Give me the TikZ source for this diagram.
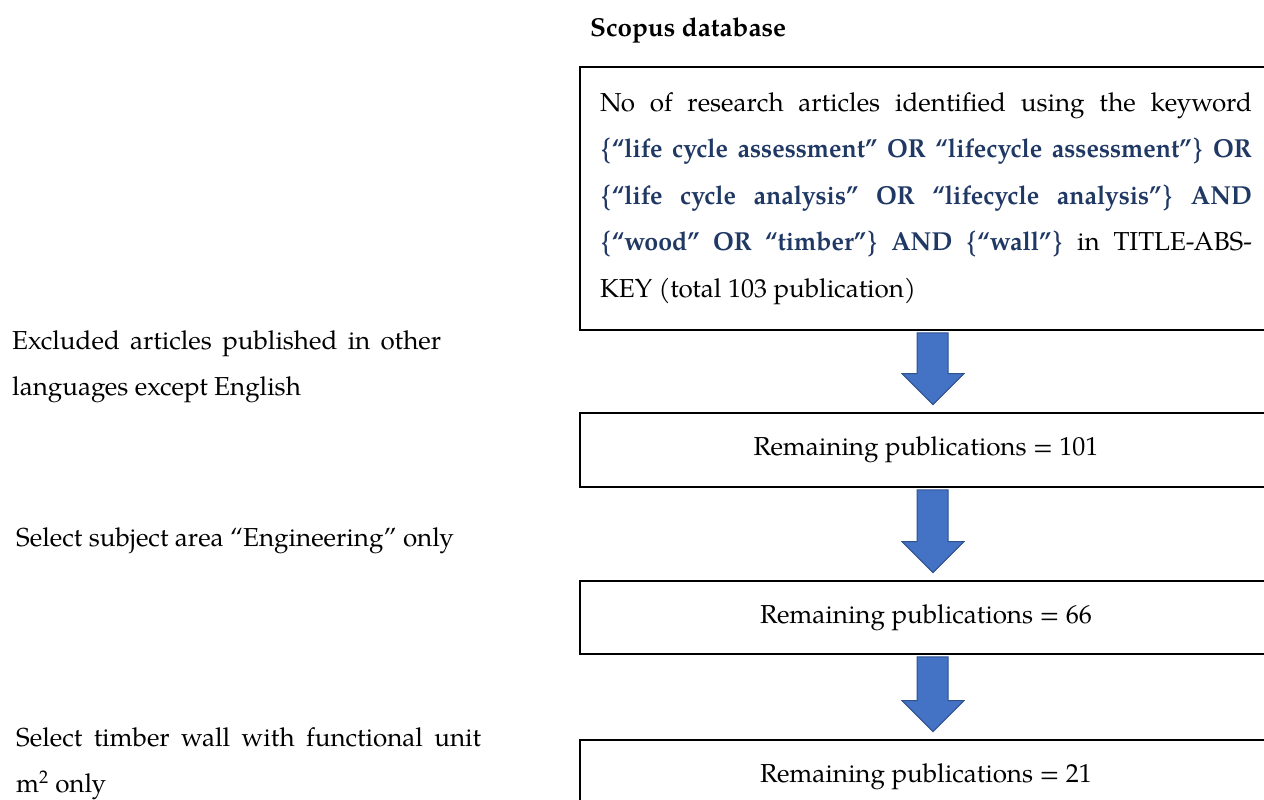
\documentclass[tikz,border=0pt]{standalone}
\usepackage{fontspec}
\setmainfont{TeX Gyre Pagella}
\usetikzlibrary{calc}
\definecolor{kwblue}{HTML}{203864}
\definecolor{arrfill}{HTML}{4472C4}
\definecolor{arrdraw}{HTML}{2F528F}
\newcommand\kw[1]{\textcolor{kwblue}{\bfseries\addfontfeatures{FakeStretch=0.96}#1}}
\newcommand\jline[2]{\makebox[#1][s]{\spaceskip=0pt\xspaceskip=0pt\relax #2}}
\newcommand\blockdown[2]{%
  \draw[blockarr] let \p1=(#1.south), \p2=(#2.north) in
    (917,\y1-2pt) -- (948,\y1-2pt) -- (948,\y2+38.5pt) -- (964,\y2+38.5pt)
    -- (933,\y2+7.5pt) -- (902,\y2+38.5pt) -- (917,\y2+38.5pt) -- cycle;}
\begin{document}
\begin{tikzpicture}[x=1pt,y=-1pt,
  basefont/.style={font=\fontsize{26}{46.5}\selectfont},
  every node/.style={basefont, inner sep=0pt},
  box/.style={draw, line width=1.8pt, minimum width=692pt},
  side/.style={anchor=north west, align=justify},
  blockarr/.style={fill=arrfill, draw=arrdraw, line width=1pt, line join=miter}]
\useasboundingbox (0,0) rectangle (1264,800);
\clip (0,0) rectangle (1264,800);

\node[anchor=base west, font=\bfseries\fontsize{26}{46.5}\selectfont] (title) at (590,37) {Scopus database};

\node[box, minimum height=263pt, text width=652pt, align=justify] (b1) at (926,198.5) {%
\jline{652pt}{No of research articles identified using the keyword}\\
\jline{652pt}{\kw{\{“life cycle assessment” OR “lifecycle assessment”\} OR}}\\
\jline{652pt}{\kw{\{“life cycle analysis” OR “lifecycle analysis”\} AND}}\\
\jline{652pt}{\kw{\{“wood” OR “timber”\} AND \{“wall”\}} in TITLE-ABS-}\\
KEY (total 103 publication)};

\node[box, minimum height=74pt] (b2) at (926,450) {Remaining publications = 101};
\node[box, minimum height=73pt] (b3) at (926,617.5) {Remaining publications = 66};
\node[box, minimum height=74pt] (b4) at (926,777) {Remaining publications = 21};

\blockdown{b1}{b2}
\blockdown{b2}{b3}
\blockdown{b3}{b4}

\node[side, text width=470pt] (l1) at (12,330) {\jline{429pt}{Excluded articles published in other}\\languages except English};
\node[side, text width=470pt] (l2) at (16,527) {Select subject area “Engineering” only};
\node[side, text width=470pt] (l3) at (16,727) {\jline{465pt}{Select timber wall with functional unit}\\m\textsuperscript{2} only};
\end{tikzpicture}
\end{document}
